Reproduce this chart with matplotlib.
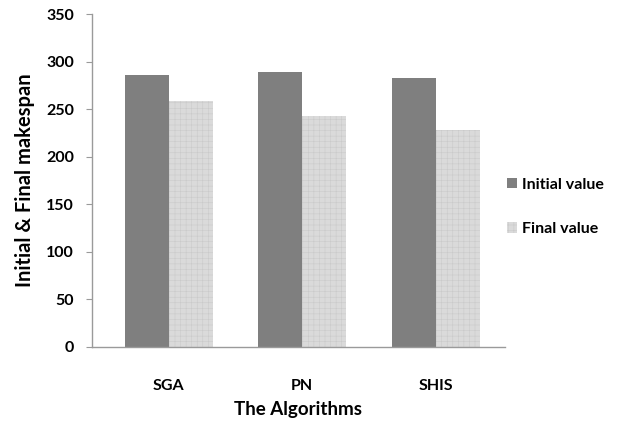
import numpy as np
import matplotlib
matplotlib.use("Agg")
import matplotlib.pyplot as plt

algorithms = ["SGA", "PN", "SHIS"]
initial_value = [286, 289, 283]
final_value = [258, 243, 228]

plt.rcParams['font.family'] = ['Lato', 'DejaVu Sans']
plt.rcParams['hatch.linewidth'] = 0.4

fig = plt.figure(figsize=(6.25, 4.21), dpi=100)
ax = fig.add_axes([0.147, 0.1765, 0.661, 0.7902])

x = np.arange(len(algorithms))
w = 0.33
ax.bar(x - w / 2, initial_value, w, color='#7f7f7f', label='Initial value')
ax.bar(x + w / 2, final_value, w, color='#dadada', edgecolor='#cacaca',
       hatch='+++', linewidth=0, label='Final value')

ax.set_xlim(-0.577, 2.52)
ax.set_ylim(0, 350)
ax.set_yticks(range(0, 351, 50))
ax.set_xticks(x)
ax.set_xticklabels(algorithms)

for s in ['top', 'right']:
    ax.spines[s].set_visible(False)
for s in ['left', 'bottom']:
    ax.spines[s].set_color('#9a9a9a')
    ax.spines[s].set_linewidth(1.0)

ax.tick_params(axis='x', length=0, pad=23)
ax.tick_params(axis='y', length=4, color='#9a9a9a', pad=9)
for lbl in ax.get_xticklabels() + ax.get_yticklabels():
    lbl.set_fontweight('bold')
    lbl.set_fontsize(11.5)

ax.set_xlabel("The Algorithms", fontsize=13.5, fontweight='bold', labelpad=6)
ax.set_ylabel("Initial & Final makespan", fontsize=14.5, fontweight='bold', labelpad=8)

leg = ax.legend(loc='center left', bbox_to_anchor=(0.97, 0.42), frameon=False,
                handlelength=0.6, handleheight=0.6, handletextpad=0.35,
                labelspacing=1.9, prop={'weight': 'bold', 'size': 11.5})

fig.savefig("out.png", dpi=100)
